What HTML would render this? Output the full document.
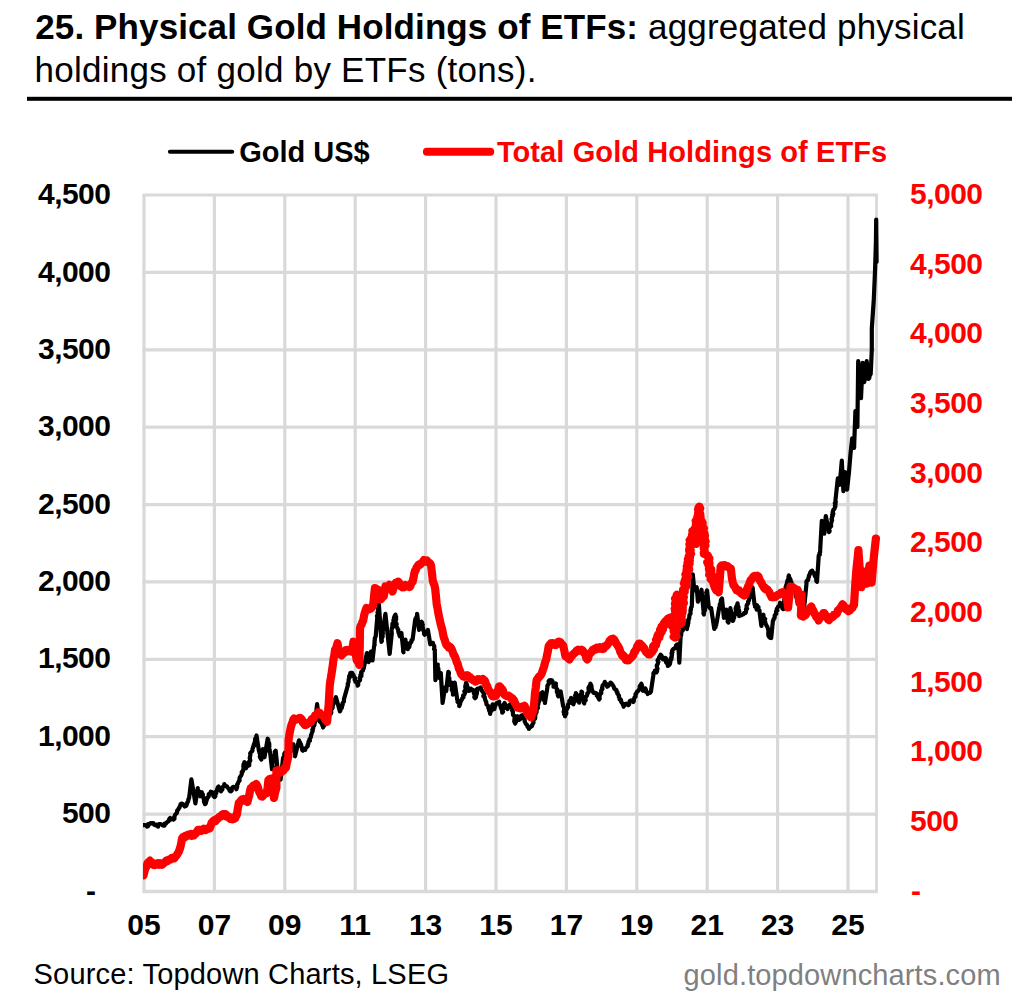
<!DOCTYPE html>
<html lang="en"><head><meta charset="utf-8"><title>25. Physical Gold Holdings of ETFs</title>
<style>
html,body{margin:0;padding:0;background:#fff;}
body{width:1035px;height:997px;overflow:hidden;font-family:"Liberation Sans",sans-serif;}
svg{display:block;}
text{font-family:"Liberation Sans",sans-serif;}
.t{font-size:35px;fill:#000;}
.b{font-weight:bold;}
.ax{font-size:30px;font-weight:bold;fill:#000;}
.axr{font-size:30px;font-weight:bold;fill:#ff0000;}
.lg{font-size:29px;font-weight:bold;}
.src{font-size:29px;fill:#000;}
.url{font-size:29px;fill:#808080;}
.grid line{stroke:#d9d9d9;stroke-width:3.2;}
</style></head><body>
<svg width="1035" height="997" viewBox="0 0 1035 997">
<rect width="1035" height="997" fill="#fff"/>
<text class="t" x="35.3" y="39"><tspan class="b" letter-spacing="0.11">25. Physical Gold Holdings of ETFs:</tspan><tspan letter-spacing="0.19"> aggregated physical</tspan></text>
<text class="t" x="34.5" y="82.4" letter-spacing="0.25">holdings of gold by ETFs (tons).</text>
<rect x="27" y="96.8" width="985" height="4" fill="#000"/>
<line x1="169.9" y1="151.85" x2="232.2" y2="151.85" stroke="#000" stroke-width="4" stroke-linecap="round"/>
<text class="lg" x="239.2" y="161.7" fill="#000">Gold US$</text>
<line x1="426.9" y1="151.8" x2="490.2" y2="151.8" stroke="#ff0000" stroke-width="8" stroke-linecap="round"/>
<text class="lg" x="496.9" y="161.7" fill="#ff0000" letter-spacing="0.1">Total Gold Holdings of ETFs</text>
<g class="grid">
<line x1="142.4" y1="891.50" x2="877.9" y2="891.50" style="stroke-width:3.3"/>
<line x1="142.4" y1="814.11" x2="877.9" y2="814.11"/>
<line x1="142.4" y1="736.72" x2="877.9" y2="736.72"/>
<line x1="142.4" y1="659.33" x2="877.9" y2="659.33"/>
<line x1="142.4" y1="581.94" x2="877.9" y2="581.94"/>
<line x1="142.4" y1="504.56" x2="877.9" y2="504.56"/>
<line x1="142.4" y1="427.17" x2="877.9" y2="427.17"/>
<line x1="142.4" y1="349.78" x2="877.9" y2="349.78"/>
<line x1="142.4" y1="272.39" x2="877.9" y2="272.39"/>
<line x1="142.4" y1="195.00" x2="877.9" y2="195.00"/>
<line x1="144.00" y1="195.0" x2="144.00" y2="891.5"/>
<line x1="214.40" y1="195.0" x2="214.40" y2="891.5"/>
<line x1="284.80" y1="195.0" x2="284.80" y2="891.5"/>
<line x1="355.20" y1="195.0" x2="355.20" y2="891.5"/>
<line x1="425.60" y1="195.0" x2="425.60" y2="891.5"/>
<line x1="496.00" y1="195.0" x2="496.00" y2="891.5"/>
<line x1="566.40" y1="195.0" x2="566.40" y2="891.5"/>
<line x1="636.80" y1="195.0" x2="636.80" y2="891.5"/>
<line x1="707.20" y1="195.0" x2="707.20" y2="891.5"/>
<line x1="777.60" y1="195.0" x2="777.60" y2="891.5"/>
<line x1="848.00" y1="195.0" x2="848.00" y2="891.5"/>
<line x1="876.50" y1="195.0" x2="876.50" y2="891.5" style="stroke-width:2.8"/>
</g>
<clipPath id="pc"><rect x="143" y="150" width="760" height="760"/></clipPath>
<g clip-path="url(#pc)">
<path d="M143.5 825.1 L144.8 825.2 L146.2 825.3 L147.0 826.6 L148.2 826.0 L148.1 824.1 L149.7 824.0 L150.5 823.1 L151.8 823.3 L153.3 823.1 L154.0 824.6 L155.0 825.1 L156.5 824.6 L157.1 826.0 L158.1 826.6 L158.2 825.0 L159.0 824.2 L160.6 824.1 L161.9 824.7 L163.1 825.6 L164.5 825.6 L164.6 823.5 L166.1 823.6 L166.5 822.5 L167.6 821.9 L168.6 821.2 L168.8 820.0 L169.3 818.9 L170.1 818.1 L170.8 819.6 L172.9 818.1 L173.6 819.6 L174.5 818.6 L174.3 817.2 L174.7 816.0 L175.1 814.8 L175.9 813.8 L177.0 812.9 L177.1 811.6 L177.2 810.4 L178.2 809.6 L178.6 808.6 L179.4 807.6 L179.7 806.5 L180.5 805.6 L180.5 804.2 L181.6 803.5 L183.0 804.1 L183.9 805.3 L184.6 806.5 L185.9 806.1 L186.6 805.0 L187.0 803.8 L187.2 802.6 L188.0 801.6 L188.3 800.3 L188.5 799.1 L189.1 798.0 L191.4 779.3 L195.4 803.4 L197.8 788.1 L197.7 789.4 L198.2 790.5 L199.1 791.5 L199.1 792.8 L199.5 793.9 L199.4 795.2 L200.2 796.2 L201.0 794.9 L201.0 793.4 L201.8 792.2 L201.5 793.4 L202.9 794.2 L202.8 795.4 L202.6 796.6 L203.7 797.5 L203.6 798.7 L204.4 799.7 L203.9 801.0 L204.1 802.1 L204.6 803.1 L205.0 804.2 L205.9 803.3 L205.6 802.0 L206.4 801.2 L206.7 800.1 L207.1 799.0 L207.3 797.9 L208.2 797.1 L208.8 796.1 L208.6 794.8 L209.0 793.8 L210.3 793.6 L210.7 791.7 L212.2 792.2 L212.6 793.5 L213.2 794.7 L213.4 796.1 L214.6 797.0 L215.4 796.1 L215.2 794.8 L215.7 793.8 L216.4 792.9 L216.0 791.5 L217.0 790.7 L217.0 789.5 L217.4 788.4 L217.7 787.4 L218.6 786.5 L218.9 787.9 L220.3 788.7 L220.7 790.0 L221.0 791.4 L221.4 790.3 L222.4 789.5 L221.9 788.0 L222.8 787.2 L223.4 786.2 L224.3 785.4 L224.3 784.1 L224.8 785.2 L225.5 786.1 L226.9 786.3 L227.5 787.3 L228.4 788.3 L229.2 789.2 L229.5 790.7 L230.7 791.4 L231.8 790.5 L231.5 788.9 L232.2 787.8 L233.2 786.8 L234.7 787.1 L235.7 787.9 L236.4 789.2 L236.7 788.1 L237.2 787.0 L237.1 785.8 L237.1 784.6 L237.9 783.6 L238.2 782.5 L238.8 781.4 L239.6 780.4 L239.5 779.2 L239.6 778.0 L240.2 776.8 L241.0 775.7 L241.6 774.5 L242.0 773.2 L241.7 772.0 L243.0 771.1 L243.1 769.9 L243.5 768.8 L243.6 767.7 L243.3 766.4 L243.6 765.3 L243.5 764.1 L244.4 763.1 L244.4 762.0 L245.3 762.9 L245.5 764.0 L245.6 765.1 L245.9 766.1 L246.0 767.3 L246.0 768.4 L246.4 767.2 L247.2 766.3 L248.1 765.7 L249.3 765.2 L248.9 763.9 L249.4 762.8 L249.1 761.6 L250.3 760.6 L250.1 759.4 L249.7 758.1 L250.0 757.0 L250.2 755.8 L250.4 754.6 L250.2 753.4 L250.9 752.3 L251.8 751.5 L252.5 750.5 L252.4 749.1 L253.0 748.0 L253.0 746.7 L254.1 745.9 L253.8 744.6 L254.4 743.6 L254.6 742.4 L255.6 741.4 L255.0 740.0 L255.1 738.8 L256.5 737.9 L256.2 736.7 L256.5 735.5 L258.9 750.7 L259.6 751.7 L259.4 753.0 L260.4 753.9 L260.1 755.2 L259.8 756.4 L260.2 757.5 L260.7 758.5 L261.3 759.6 L261.2 758.4 L261.5 757.2 L261.4 756.0 L262.4 755.0 L262.2 753.8 L262.7 752.7 L262.3 751.4 L262.4 750.2 L262.9 749.1 L262.7 750.4 L262.7 751.5 L263.1 752.7 L263.4 753.8 L263.6 754.9 L264.0 756.1 L264.5 757.2 L267.7 738.7 L268.3 739.8 L268.1 741.0 L268.5 742.1 L269.1 743.1 L269.3 744.3 L269.2 745.5 L269.4 746.6 L269.1 747.8 L268.9 749.0 L269.8 750.1 L269.4 751.3 L270.1 752.3 L272.0 769.2 L272.9 768.1 L273.0 767.0 L272.4 765.8 L272.4 764.6 L272.6 763.4 L272.7 762.3 L272.9 761.2 L273.6 760.1 L274.1 759.0 L274.2 757.9 L273.9 756.7 L274.1 755.5 L274.7 754.4 L275.3 753.3 L274.8 751.8 L275.7 750.7 L277.3 766.8 L277.4 767.9 L277.4 769.1 L277.8 770.1 L278.1 771.1 L278.7 772.1 L279.4 773.1 L278.8 774.4 L279.7 775.3 L279.4 776.5 L279.4 777.6 L280.4 778.5 L280.6 779.6 L283.0 758.8 L283.2 757.6 L284.3 756.8 L284.4 755.7 L284.2 754.3 L284.5 753.2 L285.4 752.3 L286.5 752.8 L286.6 754.3 L287.5 755.0 L288.6 755.5 L288.4 754.4 L289.5 753.5 L290.0 752.5 L289.8 751.3 L289.7 750.1 L290.2 749.1 L290.0 747.9 L290.1 746.8 L291.0 745.9 L292.8 746.1 L293.4 744.3 L293.3 745.4 L293.6 746.5 L293.3 747.7 L294.1 748.7 L293.6 749.8 L293.8 750.9 L294.8 751.9 L294.9 753.0 L295.0 754.1 L295.2 755.2 L295.0 756.3 L299.0 740.3 L299.3 741.4 L300.1 742.3 L300.3 743.4 L301.1 744.3 L300.5 745.7 L301.6 746.5 L301.9 747.6 L302.1 748.7 L302.1 749.9 L303.0 750.7 L303.7 749.8 L305.3 749.8 L305.4 748.3 L306.3 747.6 L307.1 746.8 L307.8 745.9 L307.6 744.7 L308.4 743.8 L308.4 742.6 L308.5 741.4 L309.9 740.7 L309.4 739.4 L310.1 738.4 L310.8 737.4 L310.9 736.3 L311.0 735.2 L311.5 734.2 L311.8 733.1 L312.2 732.0 L312.8 730.9 L312.3 729.6 L313.2 728.6 L313.1 727.4 L313.5 726.3 L314.4 725.3 L314.4 724.1 L314.8 723.0 L315.1 721.8 L317.1 704.2 L319.1 720.2 L319.9 721.6 L321.5 721.8 L321.3 723.1 L322.2 724.1 L322.3 725.3 L322.8 726.3 L323.1 727.5 L323.6 726.4 L324.2 725.5 L324.4 724.3 L325.0 723.4 L325.3 722.3 L326.4 721.5 L326.3 720.2 L327.1 719.4 L328.0 718.6 L328.7 717.7 L328.6 716.2 L329.5 715.4 L330.0 714.3 L331.0 713.4 L331.3 712.2 L330.9 710.7 L331.3 709.5 L332.2 708.5 L332.7 707.4 L332.5 706.1 L333.1 705.0 L333.2 703.8 L334.3 702.8 L334.8 701.7 L335.3 700.6 L334.8 699.2 L335.8 698.2 L335.9 697.0 L339.9 711.4 L340.5 710.4 L340.2 709.1 L341.5 708.3 L342.0 707.2 L341.4 705.8 L342.7 705.0 L342.4 703.7 L342.8 702.7 L343.8 701.8 L344.0 700.6 L343.9 699.4 L348.0 684.9 L347.7 683.8 L348.3 682.7 L348.6 681.7 L348.6 680.5 L348.7 679.4 L349.0 678.3 L349.8 677.3 L349.1 676.1 L350.0 675.1 L350.1 674.0 L350.4 672.9 L352.1 672.8 L352.7 674.2 L353.6 675.3 L353.8 676.4 L354.4 677.4 L355.3 678.2 L354.6 679.7 L355.2 680.7 L355.4 681.8 L356.9 682.4 L357.1 683.5 L357.7 684.5 L357.6 685.7 L358.3 684.8 L358.0 683.5 L358.2 682.3 L358.9 681.3 L359.9 680.4 L360.2 679.3 L359.8 678.0 L360.1 676.8 L361.4 676.1 L361.3 674.8 L361.6 673.7 L360.5 674.8 L361.3 673.9 L361.1 672.4 L361.6 671.3 L362.9 670.6 L363.1 669.4 L363.7 668.4 L366.9 653.1 L367.7 654.1 L366.7 655.4 L367.3 656.5 L367.3 657.6 L368.5 658.6 L367.7 659.8 L368.9 660.8 L368.5 662.0 L369.2 660.9 L369.0 659.6 L369.1 658.4 L369.7 657.3 L370.4 656.3 L369.8 654.9 L369.9 653.7 L370.7 652.7 L370.9 651.5 L371.5 652.6 L371.8 653.6 L372.0 654.8 L372.3 655.8 L372.3 657.0 L372.4 658.1 L372.6 659.2 L372.5 660.4 L374.1 645.9 L374.7 644.8 L374.3 643.5 L374.7 642.3 L374.5 641.0 L374.9 639.9 L374.7 638.6 L375.2 637.4 L375.7 636.3 L377.3 617.0 L376.9 615.8 L377.9 614.7 L377.8 613.5 L377.5 612.3 L378.0 611.2 L378.8 610.1 L377.8 608.8 L378.9 607.7 L378.6 606.5 L378.8 605.4 L378.9 604.2 L381.4 641.9 L381.9 640.9 L381.5 639.7 L381.8 638.6 L382.2 637.6 L382.7 636.5 L382.0 635.3 L382.8 634.3 L382.8 633.2 L382.8 632.1 L382.7 630.9 L383.0 629.9 L385.4 613.8 L387.8 636.3 L389.7 653.9 L391.8 633.1 L391.7 631.9 L391.5 630.7 L391.7 629.5 L391.8 628.3 L392.8 627.3 L392.3 626.0 L392.4 624.9 L392.4 623.7 L393.5 622.6 L393.7 621.5 L393.4 620.2 L394.0 619.2 L394.0 617.9 L394.3 616.8 L394.8 615.7 L395.5 614.6 L395.6 615.8 L396.2 617.0 L395.9 618.2 L396.2 619.4 L395.4 620.7 L395.5 621.9 L396.2 623.1 L396.7 624.2 L395.9 625.5 L396.6 626.7 L397.2 627.7 L397.5 628.7 L398.3 629.7 L398.2 630.9 L398.4 632.0 L398.7 633.1 L399.5 634.0 L399.4 635.2 L399.8 636.3 L399.8 634.9 L400.6 634.0 L401.4 633.1 L403.5 652.3 L403.1 651.1 L403.7 650.0 L403.4 648.7 L403.6 647.6 L404.1 646.5 L404.2 645.3 L404.8 644.2 L404.9 643.0 L405.4 641.9 L405.5 640.7 L405.4 639.5 L405.4 640.6 L405.5 641.8 L406.4 642.7 L406.7 643.7 L406.1 645.0 L407.5 645.8 L407.0 647.1 L407.4 648.1 L407.8 649.1 L407.7 647.8 L409.1 647.1 L409.5 646.1 L409.6 644.9 L410.1 643.9 L410.2 642.7 L411.4 641.9 L411.5 640.3 L412.6 639.5 L415.1 620.2 L415.4 619.2 L415.8 618.1 L416.5 617.2 L416.8 616.1 L417.2 615.0 L417.1 613.8 L419.1 629.9 L419.5 628.8 L420.3 627.7 L420.3 626.5 L420.7 625.4 L420.4 624.0 L420.5 622.8 L421.5 621.8 L422.2 622.8 L422.2 623.9 L422.8 624.9 L422.1 626.2 L422.7 627.2 L422.9 628.3 L423.2 629.4 L423.4 630.5 L423.9 631.5 L424.8 632.4 L424.0 633.7 L424.7 634.7 L425.6 633.9 L426.0 632.8 L426.6 631.8 L427.4 630.9 L427.9 629.9 L430.3 644.3 L431.2 642.7 L433.0 642.9 L433.0 644.1 L433.8 645.2 L434.3 646.4 L434.3 647.6 L434.0 649.0 L434.9 650.0 L434.8 651.3 L435.4 680.2 L437.8 664.5 L437.6 665.7 L437.4 666.8 L438.1 667.8 L438.4 668.9 L438.4 670.0 L438.2 671.2 L438.2 672.3 L438.5 673.4 L438.5 674.5 L439.4 675.5 L439.4 676.6 L439.0 677.8 L439.2 676.5 L440.2 675.5 L440.1 674.1 L440.8 673.0 L442.6 703.0 L445.0 687.4 L445.4 688.6 L446.5 689.6 L446.2 691.0 L448.3 671.8 L449.0 672.8 L448.9 673.9 L448.5 675.1 L448.6 676.2 L448.7 677.3 L449.4 678.3 L449.2 679.5 L449.4 680.6 L449.5 681.7 L450.1 682.7 L449.2 684.0 L449.9 685.0 L450.4 683.6 L451.7 682.6 L451.2 683.9 L451.3 685.1 L452.7 686.1 L452.2 687.4 L451.8 688.6 L451.8 689.9 L452.6 691.0 L452.9 692.2 L453.1 693.4 L452.9 694.6 L453.6 693.6 L452.8 692.4 L453.5 691.4 L453.1 690.2 L453.7 689.2 L454.4 688.1 L453.5 686.9 L454.6 685.9 L454.4 684.8 L455.0 683.8 L454.7 682.6 L457.1 698.2 L457.1 699.4 L458.0 700.4 L457.5 701.7 L458.3 702.7 L459.2 703.7 L459.6 704.8 L459.2 706.1 L459.7 705.0 L460.1 703.8 L460.3 702.7 L460.6 701.5 L461.3 700.5 L461.9 699.4 L462.3 698.1 L463.5 697.2 L463.1 695.5 L464.3 694.6 L464.8 693.6 L465.1 692.5 L464.3 691.3 L465.5 690.3 L465.4 689.2 L465.8 688.1 L465.2 686.9 L465.4 685.8 L465.6 684.8 L466.6 683.8 L466.1 682.6 L466.3 683.8 L467.0 684.9 L467.2 686.2 L467.8 687.3 L468.4 688.4 L468.7 689.7 L468.5 691.0 L469.6 690.5 L469.9 689.2 L470.9 688.6 L471.0 690.1 L473.0 689.8 L473.3 691.0 L473.9 692.1 L473.9 693.4 L474.6 694.5 L474.7 695.8 L474.3 697.2 L475.1 698.2 L475.9 697.3 L476.1 696.2 L476.1 695.1 L476.7 694.1 L477.0 693.0 L476.8 691.8 L477.3 690.8 L476.7 689.5 L477.5 688.6 L479.3 688.5 L480.6 687.4 L481.2 688.6 L481.5 690.0 L482.2 691.1 L483.0 692.2 L483.6 693.3 L484.2 694.5 L483.4 696.0 L484.8 696.9 L484.7 698.2 L485.2 699.4 L485.4 700.6 L486.2 701.7 L486.3 703.2 L486.6 704.5 L487.8 705.5 L488.4 706.6 L488.3 707.9 L489.1 709.0 L489.1 710.3 L489.6 711.4 L490.3 712.6 L490.2 713.9 L490.0 712.7 L490.3 711.6 L491.5 710.8 L491.2 709.6 L491.2 708.4 L492.3 707.6 L492.7 706.6 L492.3 705.3 L492.6 704.3 L493.5 705.3 L493.9 706.5 L494.4 707.7 L494.4 709.1 L494.7 707.8 L494.9 706.5 L495.5 705.3 L496.0 704.1 L496.8 703.0 L498.1 702.6 L499.2 701.8 L499.0 703.1 L499.5 704.1 L500.2 705.1 L500.5 706.1 L500.7 707.3 L501.2 708.3 L501.5 709.4 L502.2 710.4 L502.2 711.5 L502.2 712.7 L503.1 711.8 L502.3 710.4 L503.0 709.5 L503.5 708.4 L504.0 707.4 L503.5 706.2 L503.8 705.1 L504.0 704.0 L504.6 703.0 L505.2 704.0 L505.7 705.0 L505.6 706.3 L506.2 707.3 L506.7 708.3 L507.6 709.1 L507.7 707.6 L508.3 706.4 L509.7 705.6 L510.0 704.3 L510.0 705.5 L510.9 706.3 L511.2 707.4 L512.4 708.1 L512.3 709.4 L512.1 710.7 L513.0 711.5 L512.8 712.6 L513.0 713.7 L513.0 714.9 L514.2 715.8 L514.5 716.9 L514.7 718.0 L514.4 719.1 L514.4 720.3 L514.2 721.4 L514.7 722.5 L515.2 723.5 L515.7 722.4 L516.2 721.2 L516.2 719.9 L516.6 718.7 L516.3 717.3 L517.3 716.3 L517.5 717.7 L518.8 718.5 L519.1 719.9 L520.1 719.2 L520.4 718.1 L520.7 716.9 L521.1 715.8 L522.1 715.1 L522.8 716.0 L522.8 717.2 L523.1 718.3 L524.3 719.0 L524.7 720.0 L524.6 721.3 L525.1 722.3 L525.6 723.5 L526.5 724.4 L527.3 725.4 L527.5 726.8 L528.9 727.5 L528.9 728.9 L529.6 727.7 L530.6 726.8 L531.9 726.1 L532.3 724.7 L532.9 723.7 L533.5 722.8 L533.4 721.5 L533.5 720.4 L533.9 719.3 L535.1 718.6 L535.2 717.4 L535.3 716.3 L535.3 715.1 L535.3 713.9 L536.1 713.0 L536.6 712.0 L536.6 710.8 L536.6 709.6 L537.4 708.7 L538.0 707.7 L537.4 706.4 L537.5 705.2 L538.3 704.3 L538.4 703.1 L538.7 702.1 L539.3 701.1 L538.9 699.8 L539.9 698.9 L540.1 697.8 L540.0 696.7 L539.9 695.5 L541.1 694.6 L540.7 693.4 L542.5 692.2 L543.0 693.2 L542.6 694.5 L543.6 695.4 L543.9 696.5 L543.4 697.7 L544.2 698.7 L543.6 699.9 L544.5 700.9 L545.1 701.9 L544.9 703.0 L547.4 687.4 L547.3 686.1 L547.9 685.0 L548.6 683.9 L549.3 682.8 L548.6 681.3 L549.4 680.2 L550.6 680.0 L551.8 680.2 L552.5 681.2 L551.8 682.5 L553.1 683.3 L553.5 684.4 L553.7 685.4 L553.5 686.7 L554.1 685.5 L555.5 684.8 L555.9 683.5 L555.6 684.7 L556.0 685.8 L555.9 687.1 L556.2 688.2 L557.2 689.2 L557.6 690.4 L556.8 691.7 L557.3 692.8 L558.4 693.8 L557.8 695.2 L558.3 696.3 L558.7 695.0 L559.3 693.8 L559.9 692.6 L560.7 691.5 L563.1 705.9 L563.7 707.0 L564.2 708.1 L564.0 709.3 L564.1 710.5 L563.6 711.8 L564.9 712.8 L564.0 714.1 L565.2 715.1 L565.0 716.3 L565.1 715.1 L566.1 714.1 L566.4 713.0 L566.2 711.7 L566.0 710.4 L566.9 709.4 L567.1 708.2 L568.1 707.2 L567.9 705.9 L568.0 704.6 L568.6 703.6 L569.8 702.7 L569.2 701.1 L570.1 700.1 L571.0 699.2 L571.1 697.9 L571.2 699.1 L572.5 699.8 L572.9 700.9 L573.2 702.0 L572.6 703.4 L573.5 704.3 L573.4 703.1 L574.3 702.1 L574.7 701.1 L574.3 699.8 L574.4 698.6 L575.5 697.7 L575.3 696.5 L575.1 695.3 L576.0 694.3 L575.9 693.1 L576.5 694.1 L576.9 695.1 L577.6 696.1 L577.0 697.5 L577.2 698.6 L577.9 699.6 L577.9 700.8 L579.4 701.4 L579.1 702.7 L579.0 701.5 L579.6 700.5 L580.4 699.5 L580.7 698.3 L580.2 697.1 L580.3 695.9 L580.7 694.8 L581.0 693.7 L581.8 692.7 L581.5 691.5 L582.2 692.5 L581.6 693.8 L582.0 694.8 L582.1 695.9 L582.4 697.0 L582.9 698.1 L583.5 699.1 L583.8 700.2 L583.9 701.3 L583.7 702.5 L584.3 703.5 L584.1 702.2 L584.6 701.2 L585.7 700.3 L585.4 699.0 L585.5 697.8 L585.8 696.7 L586.9 695.8 L587.2 694.7 L587.3 693.5 L588.4 692.6 L588.6 691.5 L589.1 690.4 L588.5 689.0 L588.5 687.8 L588.9 686.7 L589.7 685.7 L590.3 684.6 L590.4 683.5 L590.8 684.6 L591.4 685.6 L591.5 686.9 L591.6 688.1 L591.9 689.2 L592.1 690.4 L592.8 691.5 L593.5 692.8 L594.7 692.9 L596.0 693.1 L597.0 693.9 L596.6 695.4 L597.8 696.2 L598.0 697.4 L598.8 698.4 L599.2 699.5 L599.8 698.5 L599.3 697.3 L599.7 696.2 L599.9 695.1 L600.1 694.0 L601.3 693.2 L601.2 692.0 L601.1 690.9 L601.5 689.8 L602.5 689.0 L602.1 687.7 L602.4 686.7 L602.7 685.3 L604.0 684.4 L604.4 683.1 L604.8 681.8 L604.8 683.3 L606.5 684.0 L606.6 685.4 L607.2 686.7 L608.3 685.9 L609.2 684.9 L610.0 684.0 L610.4 682.6 L611.6 683.3 L612.1 684.5 L613.0 685.3 L613.6 686.4 L614.0 687.6 L614.4 688.8 L615.5 689.3 L616.4 690.0 L616.4 691.3 L617.5 692.2 L617.3 693.6 L618.3 694.6 L619.0 695.6 L618.8 697.0 L619.6 698.0 L619.6 699.4 L621.1 700.0 L621.0 701.4 L621.5 702.5 L622.5 703.4 L622.8 704.6 L623.6 705.5 L623.6 706.8 L624.1 705.5 L625.0 704.5 L626.0 703.6 L627.1 704.6 L628.5 705.2 L629.2 704.1 L629.3 702.7 L629.7 701.3 L630.9 700.4 L632.3 700.9 L633.3 702.0 L633.9 701.0 L633.7 699.7 L634.2 698.6 L634.5 697.5 L635.6 696.6 L635.7 695.4 L635.5 694.1 L636.5 693.2 L636.9 691.8 L638.0 691.0 L638.9 690.0 L639.3 688.9 L639.9 687.9 L639.6 686.6 L640.1 685.6 L641.1 684.7 L641.3 683.6 L641.7 684.7 L642.1 685.9 L642.3 687.1 L641.8 688.5 L642.9 689.5 L642.9 690.8 L643.8 690.1 L644.4 689.1 L645.3 688.4 L645.9 689.5 L645.8 690.8 L646.1 692.0 L647.4 692.8 L647.7 694.0 L648.3 692.6 L650.2 692.8 L650.9 691.6 L653.3 675.5 L653.4 674.2 L653.5 672.9 L655.0 672.1 L654.9 670.7 L655.8 671.5 L656.5 672.3 L657.1 671.2 L656.7 670.0 L657.5 668.9 L657.1 667.7 L656.8 666.4 L656.8 665.3 L657.6 664.2 L657.9 663.0 L658.4 661.9 L657.5 660.6 L658.1 659.5 L658.9 658.4 L659.2 657.0 L660.0 655.9 L660.6 654.7 L661.6 655.7 L662.0 657.0 L662.3 658.3 L663.0 659.5 L664.7 659.5 L665.4 657.9 L666.2 658.9 L666.1 660.2 L666.0 661.4 L666.2 662.7 L667.5 663.5 L667.9 664.6 L667.8 665.9 L669.0 665.2 L669.9 664.2 L670.2 662.7 L670.4 661.5 L670.0 660.3 L671.4 659.3 L670.9 658.0 L671.8 657.0 L671.6 655.7 L672.1 654.6 L671.5 653.3 L672.5 652.3 L672.0 651.0 L672.6 649.9 L673.3 649.0 L674.5 648.6 L675.3 647.8 L675.8 646.7 L676.1 645.3 L676.9 644.6 L678.2 644.3 L679.3 662.7 L680.6 637.0 L680.8 635.9 L681.2 634.9 L681.3 633.8 L681.2 632.6 L681.6 631.6 L682.5 630.7 L683.0 629.7 L682.2 628.3 L683.0 627.4 L683.7 626.2 L684.5 625.1 L684.3 623.5 L685.4 622.6 L685.3 623.8 L686.5 624.6 L686.1 625.8 L686.4 626.9 L686.6 628.0 L687.0 629.0 L687.0 627.8 L687.4 626.7 L687.8 625.5 L687.8 624.3 L688.3 623.2 L688.3 622.0 L688.5 620.8 L688.2 619.6 L689.2 618.5 L689.2 617.3 L689.4 616.2 L689.4 615.0 L690.3 614.1 L690.6 613.0 L690.5 611.9 L690.4 610.7 L691.0 609.7 L690.8 608.6 L691.1 607.5 L691.8 606.5 L692.8 574.4 L694.3 590.5 L695.0 589.4 L695.4 588.0 L696.7 587.3 L697.9 601.7 L698.4 600.5 L698.9 599.3 L698.8 597.9 L699.9 596.9 L700.3 595.7 L699.9 594.4 L701.0 593.4 L701.3 592.2 L701.2 590.9 L701.5 589.7 L703.9 614.6 L703.4 613.3 L704.2 612.2 L704.2 611.0 L705.1 610.0 L704.1 608.7 L705.2 607.6 L705.6 606.5 L705.4 605.3 L705.6 604.1 L704.9 602.8 L705.5 601.7 L706.3 600.7 L705.8 599.5 L706.6 598.4 L706.7 597.3 L705.9 596.0 L706.8 595.0 L707.2 593.9 L706.2 592.7 L706.7 591.6 L707.1 590.5 L708.7 606.5 L709.6 607.9 L711.1 608.1 L714.3 629.0 L714.3 627.8 L715.6 627.1 L715.2 625.7 L716.3 624.9 L715.9 623.5 L716.7 622.6 L719.1 608.1 L719.5 607.1 L720.3 606.2 L719.7 604.8 L720.1 603.8 L720.7 602.8 L720.8 601.7 L720.8 600.5 L721.3 599.5 L722.0 598.5 L723.9 617.8 L723.9 616.5 L725.2 615.6 L725.2 614.4 L725.8 613.3 L725.2 611.9 L726.4 611.0 L726.3 609.7 L727.0 610.8 L726.7 612.1 L726.7 613.3 L727.3 614.4 L726.8 615.7 L727.4 616.8 L727.6 617.9 L727.4 619.2 L728.6 620.2 L727.6 621.5 L728.4 622.6 L730.4 608.1 L730.4 609.3 L730.9 610.5 L730.6 611.7 L731.5 612.8 L730.8 614.1 L731.6 615.2 L732.1 616.3 L731.8 617.5 L732.4 618.6 L733.0 619.7 L732.8 621.0 L733.4 619.9 L732.9 618.5 L734.2 617.7 L733.8 616.3 L734.7 615.3 L735.4 614.3 L735.2 613.0 L735.6 611.9 L735.9 610.9 L735.7 609.7 L735.6 608.5 L735.9 607.5 L736.3 606.4 L737.2 605.5 L737.2 604.4 L737.6 603.3 L737.7 604.5 L737.4 605.7 L738.5 606.8 L738.5 608.0 L738.1 609.2 L739.1 610.3 L739.3 611.4 L738.9 612.6 L739.4 613.8 L739.2 615.0 L739.2 616.2 L740.0 615.0 L741.4 615.3 L742.4 614.6 L743.6 614.2 L744.2 612.9 L745.6 613.0 L746.0 611.9 L746.1 610.7 L745.9 609.5 L747.1 608.6 L746.5 607.3 L746.6 606.1 L746.8 605.0 L747.7 604.0 L748.3 603.0 L748.0 601.7 L748.9 600.7 L749.1 599.3 L749.5 598.0 L750.4 596.9 L750.1 595.6 L751.1 594.5 L751.3 593.3 L751.3 592.1 L751.9 590.9 L751.9 589.7 L752.8 588.6 L752.5 587.3 L754.4 603.3 L754.5 604.5 L755.5 605.4 L755.1 606.7 L756.6 607.4 L756.4 608.7 L756.8 609.7 L756.8 608.6 L756.6 607.4 L756.4 606.3 L757.1 605.2 L757.1 606.4 L758.5 607.1 L758.2 608.4 L758.2 609.7 L759.5 610.4 L759.5 611.6 L761.4 626.0 L761.2 624.8 L762.0 623.8 L762.1 622.7 L762.4 621.6 L762.9 620.5 L762.3 619.2 L762.6 618.1 L762.8 617.0 L762.7 615.8 L763.5 614.8 L763.3 616.0 L763.7 617.0 L764.0 618.1 L765.2 618.9 L764.4 620.3 L764.8 621.3 L765.4 622.3 L765.3 623.4 L765.9 624.4 L766.4 625.5 L767.1 626.4 L767.6 627.5 L767.9 628.6 L768.5 629.6 L768.3 630.9 L768.6 631.9 L768.2 633.1 L768.4 634.2 L768.3 635.3 L768.8 636.4 L769.7 637.6 L771.2 638.0 L772.8 622.0 L772.9 620.8 L773.6 619.8 L773.8 618.7 L774.6 617.8 L774.7 616.6 L774.7 615.4 L775.5 614.5 L776.3 613.6 L776.0 612.3 L776.1 611.1 L777.4 610.4 L776.8 608.9 L777.5 607.9 L778.0 606.9 L779.0 606.0 L779.7 605.1 L779.9 603.9 L780.1 602.7 L780.8 603.7 L780.7 605.1 L781.9 605.8 L782.5 606.8 L782.3 608.3 L783.3 609.1 L785.7 586.7 L786.2 585.6 L786.6 584.5 L786.8 583.3 L787.6 582.3 L787.2 581.0 L788.0 580.0 L788.2 578.9 L788.7 577.8 L788.5 576.5 L788.9 575.4 L788.9 576.7 L789.5 577.7 L790.2 578.8 L790.6 579.9 L790.5 581.2 L791.5 582.1 L791.3 583.5 L791.4 584.8 L792.8 585.5 L793.5 586.6 L793.5 588.0 L794.4 589.0 L793.7 590.5 L794.8 591.4 L795.4 592.4 L795.9 593.5 L796.2 594.7 L796.0 596.0 L796.3 597.3 L796.8 598.5 L797.3 599.7 L797.7 600.9 L798.5 602.0 L798.4 600.6 L799.5 599.5 L799.7 598.2 L800.3 597.0 L800.2 598.2 L800.4 599.4 L800.6 600.5 L802.0 601.4 L801.2 602.7 L801.4 603.9 L801.7 605.0 L802.5 606.0 L803.5 606.8 L803.8 607.8 L804.0 609.0 L806.5 583.5 L806.4 582.2 L806.6 581.0 L808.0 580.1 L808.3 579.0 L808.4 577.8 L809.0 576.7 L808.9 575.4 L809.7 574.6 L810.0 573.3 L810.4 572.2 L811.1 571.3 L812.2 570.6 L812.5 572.0 L813.7 572.8 L814.2 574.1 L814.6 575.4 L815.1 576.5 L816.0 577.3 L816.1 578.5 L816.4 579.6 L816.3 580.9 L817.0 581.8 L818.6 557.8 L818.6 556.6 L818.8 555.4 L819.9 554.5 L819.5 553.2 L820.2 552.1 L820.1 550.9 L820.2 549.7 L821.8 520.9 L822.6 521.9 L822.3 523.2 L822.5 524.3 L822.3 525.6 L823.1 526.7 L822.8 527.9 L823.3 529.0 L823.9 530.1 L823.3 531.5 L824.5 532.4 L824.2 533.7 L825.8 516.0 L829.0 532.1 L829.7 531.1 L829.1 529.9 L829.2 528.7 L829.7 527.7 L830.7 526.8 L831.2 525.8 L830.2 524.4 L831.1 523.5 L831.4 522.5 L831.6 521.3 L832.1 520.3 L831.5 519.0 L832.0 518.0 L832.0 516.8 L832.8 515.8 L832.2 514.6 L833.3 513.6 L832.6 512.3 L833.0 511.2 L833.3 509.9 L834.5 508.9 L834.8 507.6 L835.4 506.4 L834.9 505.3 L835.6 504.2 L834.8 503.1 L835.8 502.0 L835.4 500.9 L837.8 478.4 L837.8 479.5 L838.1 480.6 L838.6 481.6 L839.2 482.6 L839.5 483.7 L839.7 484.8 L841.8 460.7 L843.4 491.2 L845.0 472.0 L847.1 489.6 L849.0 472.0 L850.6 452.7 L852.2 438.3 L852.6 439.4 L852.2 440.8 L853.5 441.8 L852.7 443.2 L854.0 444.2 L854.0 445.4 L854.2 446.6 L854.1 447.9 L855.4 411.0 L857.4 427.0 L858.2 361.2 L859.4 382.1 L861.0 398.1 L862.6 362.8 L864.3 382.1 L866.7 361.2 L868.3 378.9 L869.3 377.9 L869.5 376.5 L869.9 375.2 L870.7 374.1 L871.8 350.0 L871.8 328.4 L873.8 299.5 L875.1 269.0 L875.9 242.0 L876.2 219.6 L876.6 262.0" fill="none" stroke="#000" stroke-width="4.2" stroke-linejoin="round" stroke-linecap="round"/>
<path d="M143.5 875.3 L144.3 872.2 L145.0 869.2 L145.9 867.4 L146.7 866.1 L147.5 863.2 L148.4 862.3 L149.2 861.6 L150.0 860.7 L150.8 861.9 L151.5 862.1 L152.3 863.7 L153.0 864.7 L153.8 864.9 L154.6 865.1 L155.4 863.6 L156.2 863.9 L157.1 864.2 L157.9 863.4 L158.7 864.8 L159.5 864.6 L160.3 863.3 L161.1 864.2 L161.9 864.8 L162.7 864.3 L163.5 863.3 L164.3 862.8 L165.1 862.2 L165.9 861.1 L166.7 860.4 L167.6 861.0 L168.4 859.7 L169.3 859.5 L170.1 859.7 L170.9 858.8 L171.8 857.9 L172.6 858.4 L173.4 857.9 L174.3 858.3 L175.1 857.2 L176.0 856.0 L176.9 855.0 L177.7 853.4 L178.6 852.2 L179.6 849.5 L180.6 846.2 L181.4 842.1 L182.1 838.1 L182.9 837.2 L183.6 838.1 L184.4 837.6 L185.1 836.1 L186.0 836.6 L186.8 836.1 L187.6 835.0 L188.5 834.6 L189.3 834.5 L190.2 834.6 L190.9 834.0 L191.7 835.7 L192.4 835.2 L193.2 835.6 L194.0 835.4 L194.8 833.6 L195.6 833.8 L196.4 832.7 L197.2 831.1 L198.0 829.8 L198.8 829.9 L199.6 831.0 L200.4 829.9 L201.2 829.6 L202.0 830.6 L202.9 829.4 L203.7 828.8 L204.5 829.9 L205.4 830.2 L206.2 829.6 L207.0 828.9 L207.7 828.3 L208.5 828.5 L209.2 828.6 L210.0 827.9 L210.7 825.9 L211.5 823.0 L212.2 822.1 L213.0 821.2 L213.8 820.5 L214.6 820.0 L215.4 821.1 L216.2 820.1 L217.0 818.7 L217.8 818.8 L218.6 817.9 L219.4 816.7 L220.2 816.6 L221.0 816.6 L221.7 815.0 L222.5 815.6 L223.2 814.1 L224.0 814.3 L224.8 814.1 L225.5 814.1 L226.3 814.8 L227.0 816.8 L227.8 817.0 L228.5 816.6 L229.3 817.6 L230.0 818.6 L230.8 817.5 L231.5 818.1 L232.3 819.3 L233.0 819.1 L233.8 819.1 L234.5 817.3 L235.3 818.1 L236.0 815.5 L236.8 815.1 L237.8 808.6 L238.8 803.0 L239.6 802.9 L240.4 801.2 L241.1 800.4 L241.9 799.3 L242.7 799.4 L243.5 799.0 L244.3 800.3 L245.1 800.1 L245.9 801.2 L246.7 801.1 L247.5 801.8 L248.3 798.3 L249.1 795.9 L249.9 791.5 L250.7 788.1 L251.5 787.7 L252.3 787.7 L253.1 785.8 L253.9 785.2 L254.7 786.1 L255.5 785.3 L256.3 784.1 L257.2 785.6 L258.0 787.5 L258.8 790.6 L259.6 793.0 L260.4 793.6 L261.2 796.2 L262.0 796.6 L262.8 796.0 L263.6 795.0 L264.4 794.2 L265.2 793.1 L266.0 792.5 L266.8 793.0 L267.6 787.5 L268.4 780.1 L269.2 779.3 L270.0 779.9 L270.8 778.7 L271.6 779.5 L272.4 778.5 L273.2 788.3 L274.0 797.8 L274.8 794.2 L275.6 790.7 L276.4 788.1 L276.4 770.5 L277.2 771.2 L278.0 770.2 L278.8 770.8 L279.6 771.7 L280.4 772.5 L281.2 772.1 L282.0 771.5 L282.8 770.1 L283.6 770.5 L284.4 768.3 L285.2 767.1 L286.0 767.3 L286.8 763.1 L287.6 759.7 L288.4 756.0 L288.6 739.5 L289.4 734.3 L290.2 730.3 L291.0 726.7 L291.8 724.0 L292.6 722.0 L293.4 719.4 L294.2 718.5 L295.0 718.8 L295.8 719.6 L296.6 719.6 L297.4 718.7 L298.2 718.6 L299.0 718.2 L299.8 717.8 L300.6 718.1 L301.4 719.0 L302.2 720.0 L303.0 722.8 L303.8 723.4 L304.6 724.9 L305.4 725.1 L306.2 723.6 L307.0 724.3 L307.8 723.4 L308.6 723.4 L309.4 722.0 L310.2 721.8 L311.0 721.8 L311.8 718.9 L312.6 718.7 L313.5 718.0 L314.3 717.3 L315.1 715.4 L315.9 715.1 L316.7 714.2 L317.5 713.6 L318.3 712.2 L319.1 713.6 L319.9 713.0 L320.7 714.2 L321.5 715.2 L322.3 715.6 L323.1 715.4 L323.9 716.5 L324.7 718.6 L325.5 720.0 L326.3 720.7 L327.1 721.8 L327.9 713.3 L328.7 704.2 L329.8 684.9 L330.5 679.9 L331.3 675.5 L332.0 670.7 L332.7 665.7 L333.5 659.5 L334.3 655.3 L335.1 649.6 L335.9 648.5 L336.7 646.1 L337.5 643.2 L338.3 647.8 L339.1 651.4 L339.9 652.5 L340.7 654.5 L341.5 655.4 L342.3 654.6 L343.1 653.3 L343.9 653.1 L344.7 651.4 L345.5 650.4 L346.3 651.6 L347.1 650.0 L347.9 651.0 L348.7 650.6 L349.5 650.8 L350.3 650.5 L351.1 651.6 L351.9 651.4 L352.7 646.5 L353.5 641.7 L354.3 645.2 L355.1 648.2 L355.9 655.0 L356.7 660.2 L357.6 661.3 L358.4 662.4 L359.3 665.0 L359.8 645.0 L360.0 628.0 L360.8 625.7 L361.6 624.6 L362.4 621.8 L363.2 620.5 L364.1 615.6 L365.0 612.0 L366.4 608.0 L367.2 608.9 L368.0 608.5 L368.8 608.1 L369.6 609.1 L370.4 608.0 L371.2 608.4 L372.3 606.6 L373.3 604.2 L374.1 595.6 L374.9 588.1 L375.7 588.4 L376.5 589.6 L377.3 590.2 L378.1 589.7 L378.9 593.7 L379.7 595.9 L380.6 599.4 L381.4 598.7 L382.2 597.4 L383.0 596.2 L383.8 596.2 L384.6 591.3 L385.4 586.5 L386.2 586.9 L387.0 586.6 L387.8 586.0 L388.6 586.2 L389.4 584.9 L390.2 586.1 L391.0 587.5 L391.8 589.7 L392.6 591.4 L393.4 588.7 L394.2 586.4 L395.0 584.6 L395.8 582.5 L396.6 582.5 L397.4 582.0 L398.2 581.7 L399.0 582.5 L399.8 584.7 L400.6 586.1 L401.4 586.1 L402.2 587.3 L403.0 586.2 L403.8 585.8 L404.6 587.1 L405.4 585.1 L406.2 585.7 L407.0 586.3 L407.8 586.2 L408.6 585.8 L409.4 587.0 L410.2 586.5 L411.0 584.0 L411.8 582.6 L412.6 581.7 L413.5 577.9 L414.3 573.3 L415.1 570.5 L415.9 569.8 L416.7 567.3 L417.5 566.5 L418.3 565.2 L419.1 564.4 L419.9 564.9 L420.7 564.1 L421.5 563.0 L422.3 562.3 L423.1 561.4 L423.9 560.1 L424.7 561.0 L425.5 561.6 L426.3 561.4 L427.1 560.7 L427.9 561.7 L428.7 562.6 L429.5 563.0 L430.3 563.7 L431.1 565.7 L431.9 572.8 L432.7 580.1 L433.5 583.2 L434.3 584.8 L435.1 588.1 L435.9 595.7 L436.7 604.2 L437.5 608.2 L438.3 613.1 L439.1 617.0 L439.9 620.7 L440.7 624.3 L441.5 627.3 L442.3 629.9 L443.1 634.4 L443.9 637.9 L444.7 639.7 L445.5 642.5 L446.3 644.7 L447.2 645.9 L448.0 645.6 L448.8 647.7 L449.6 647.8 L450.4 647.1 L451.2 648.3 L452.0 650.0 L452.8 652.2 L453.6 654.6 L454.4 655.5 L455.2 657.3 L456.0 659.7 L456.8 662.3 L457.6 663.6 L458.4 666.6 L459.2 669.3 L460.0 670.7 L460.8 673.2 L461.6 674.6 L462.4 674.7 L463.2 676.4 L464.0 676.7 L464.8 676.8 L465.6 676.3 L466.4 676.3 L467.2 675.2 L468.0 675.6 L469.0 677.1 L470.0 677.0 L470.8 678.7 L471.6 679.3 L472.4 679.1 L473.2 680.3 L474.0 680.0 L474.8 681.0 L475.6 681.6 L476.4 681.2 L477.2 679.9 L478.0 679.1 L478.8 679.6 L479.6 679.4 L480.4 679.7 L481.2 680.2 L482.0 679.8 L482.8 679.0 L483.6 680.7 L484.4 680.2 L485.2 681.3 L486.0 684.7 L486.9 685.4 L487.7 687.6 L488.5 689.9 L489.3 691.7 L490.1 691.7 L490.9 693.0 L491.7 695.0 L492.5 696.3 L493.3 696.4 L494.1 696.3 L494.9 695.7 L495.7 695.9 L496.5 694.7 L497.3 692.0 L498.1 690.2 L498.9 686.7 L499.7 686.4 L500.5 687.3 L501.3 688.5 L502.1 689.1 L502.9 690.5 L503.7 693.3 L504.5 694.7 L505.3 695.2 L506.1 695.3 L506.9 696.2 L507.7 695.9 L508.5 695.6 L509.3 696.3 L510.1 696.7 L510.9 698.3 L511.7 699.1 L512.5 698.4 L513.3 700.3 L514.1 700.3 L514.9 703.0 L515.7 704.0 L516.5 705.9 L517.3 707.5 L518.1 707.1 L518.9 707.9 L519.7 708.0 L520.6 708.4 L521.4 708.3 L522.2 706.8 L523.0 708.1 L523.8 706.6 L524.6 705.9 L525.4 707.7 L526.2 710.5 L527.0 712.1 L527.8 713.9 L528.6 714.7 L529.4 715.9 L530.2 715.5 L531.0 717.2 L531.8 715.1 L532.6 712.7 L533.4 710.7 L534.2 702.8 L535.0 693.1 L535.8 687.5 L536.6 680.2 L537.4 678.8 L538.2 678.3 L539.0 676.6 L539.8 676.3 L540.6 675.4 L541.4 674.1 L542.2 672.2 L543.0 669.4 L543.8 667.4 L544.6 664.4 L545.4 661.4 L546.2 659.4 L547.0 655.3 L547.8 651.7 L548.6 646.5 L549.4 645.0 L550.2 645.5 L551.0 643.2 L551.8 643.3 L552.6 643.0 L553.5 643.4 L554.3 644.7 L555.1 644.3 L555.9 644.9 L556.7 643.8 L557.5 643.6 L558.3 641.7 L559.1 641.7 L559.9 643.0 L560.7 642.6 L561.5 644.2 L562.3 644.4 L563.1 645.7 L563.9 648.6 L564.7 652.8 L565.5 656.2 L566.3 656.7 L567.1 657.2 L567.9 657.9 L568.7 658.8 L569.5 659.4 L570.3 657.5 L571.1 656.4 L571.9 656.0 L572.7 654.6 L573.5 654.0 L574.3 653.0 L575.1 652.9 L575.9 651.6 L576.7 650.6 L577.5 651.1 L578.3 649.7 L579.1 650.6 L579.9 650.6 L580.7 650.7 L581.5 649.7 L582.3 650.2 L583.1 651.0 L583.9 653.0 L584.7 653.0 L585.5 654.5 L586.3 658.2 L587.2 659.4 L588.0 658.5 L588.8 655.4 L589.6 654.0 L590.4 653.0 L591.2 652.6 L592.0 650.9 L592.8 649.7 L593.6 650.4 L594.4 648.9 L595.2 648.6 L596.0 649.2 L596.8 647.7 L597.6 648.1 L598.4 648.1 L599.2 648.5 L600.0 647.2 L600.8 647.5 L601.6 648.5 L602.4 649.0 L603.2 648.1 L604.0 648.4 L604.8 646.1 L605.6 646.2 L606.4 646.1 L607.2 644.9 L608.0 643.7 L608.8 642.9 L609.6 640.7 L610.4 640.1 L611.3 639.1 L612.2 639.0 L613.1 638.7 L614.0 639.4 L614.8 640.9 L615.6 642.3 L616.4 643.8 L617.2 645.1 L618.0 646.0 L618.8 647.6 L619.6 649.3 L620.4 652.2 L621.2 653.1 L622.0 655.2 L622.8 656.2 L623.6 655.6 L624.4 656.7 L625.2 658.7 L626.0 660.0 L626.9 659.4 L627.7 660.4 L628.5 660.3 L629.3 659.2 L630.1 658.6 L630.9 657.9 L631.7 657.0 L632.5 656.3 L633.3 654.9 L634.1 652.1 L634.9 651.9 L635.7 649.9 L636.5 649.0 L637.3 646.0 L638.1 645.0 L638.9 643.5 L640.0 643.5 L640.7 644.9 L641.5 645.2 L642.2 645.8 L642.9 646.7 L643.7 648.4 L644.4 648.3 L645.1 650.3 L646.0 651.9 L646.8 652.6 L647.7 653.2 L648.5 654.4 L649.4 654.5 L650.2 654.0 L651.0 652.7 L651.8 652.3 L652.7 651.2 L652.9 650.4 L653.7 649.7 L654.1 648.9 L653.1 647.5 L653.1 646.5 L654.3 646.1 L654.4 645.1 L656.1 644.8 L656.1 643.9 L656.2 642.9 L656.5 642.0 L657.1 641.3 L656.1 639.9 L657.2 639.4 L657.6 638.6 L657.2 637.4 L659.3 637.3 L657.7 635.6 L659.8 635.6 L658.4 634.0 L660.3 633.7 L659.8 632.5 L660.3 631.8 L661.7 631.4 L660.1 629.7 L660.6 628.9 L663.0 628.9 L662.4 627.7 L661.7 626.4 L663.1 626.0 L664.4 625.7 L664.9 624.9 L663.9 623.2 L664.9 622.7 L664.9 621.6 L665.8 621.0 L666.8 620.6 L667.1 619.6 L667.6 618.8 L668.8 619.2 L669.1 617.9 L669.9 617.7 L671.1 618.2 L671.6 617.4 L672.2 618.3 L672.3 619.2 L671.9 620.3 L672.5 621.2 L673.0 622.0 L674.4 622.7 L672.3 624.2 L671.8 625.3 L671.9 626.2 L673.2 626.9 L673.9 627.8 L674.5 628.6 L674.6 629.5 L673.6 630.6 L673.8 631.5 L675.8 632.1 L675.5 633.1 L675.2 634.0 L674.8 635.0 L674.0 636.0 L675.1 636.8 L675.2 637.7 L673.7 636.7 L676.4 635.9 L675.1 635.0 L675.4 634.1 L674.5 633.2 L675.2 632.3 L675.1 631.4 L676.4 630.5 L674.3 629.5 L675.8 628.7 L674.6 627.7 L676.3 626.9 L674.2 625.9 L675.0 625.0 L675.3 624.1 L676.3 623.3 L674.4 622.3 L675.8 621.4 L675.0 620.5 L675.2 619.6 L675.9 618.7 L677.5 617.9 L676.0 616.9 L677.6 616.1 L676.1 615.1 L675.1 614.2 L677.6 613.3 L675.8 612.4 L675.2 611.4 L677.1 610.5 L677.7 609.6 L674.7 608.6 L675.6 607.7 L677.3 606.9 L675.9 605.9 L675.6 605.0 L674.9 604.0 L675.0 603.1 L676.9 602.2 L678.2 601.3 L678.2 600.4 L676.6 599.4 L675.1 598.5 L676.1 597.6 L677.7 596.7 L677.8 595.8 L676.8 594.8 L677.3 595.8 L678.5 596.0 L678.9 597.1 L678.8 598.0 L679.0 598.9 L678.6 599.8 L679.8 600.6 L677.6 601.7 L677.9 602.6 L680.3 603.3 L679.9 604.3 L678.1 605.3 L680.1 606.1 L678.0 607.1 L679.4 607.9 L678.9 608.9 L678.9 609.8 L680.6 610.6 L680.4 611.5 L680.5 612.4 L679.2 613.4 L679.2 614.3 L681.1 615.1 L678.7 616.1 L680.2 616.9 L680.9 617.8 L680.3 618.7 L678.6 619.7 L680.0 620.6 L679.8 621.5 L678.9 622.4 L678.8 623.3 L680.4 624.2 L681.3 623.3 L680.2 622.3 L680.9 621.5 L682.0 620.6 L681.7 619.7 L681.0 618.8 L680.3 617.8 L680.5 616.9 L681.7 616.1 L681.2 615.2 L679.5 614.1 L681.9 613.4 L682.6 612.5 L682.3 611.6 L682.7 610.7 L682.8 609.8 L681.6 608.8 L681.6 607.9 L682.6 607.1 L681.4 606.1 L680.6 605.0 L681.6 604.2 L681.6 603.3 L683.8 602.7 L683.1 601.7 L682.8 600.7 L683.2 599.8 L681.7 598.7 L683.1 598.0 L683.8 597.2 L682.9 596.1 L682.6 595.2 L683.2 594.3 L683.1 593.4 L683.8 592.6 L684.6 591.8 L683.0 590.5 L683.0 589.6 L683.9 588.8 L685.3 588.2 L685.7 587.3 L685.5 586.3 L686.6 585.6 L684.9 584.4 L684.0 583.3 L685.6 582.6 L685.6 581.7 L684.9 580.6 L686.7 580.0 L685.8 578.9 L685.6 578.0 L686.1 577.1 L688.2 576.6 L687.0 575.4 L685.5 574.3 L686.7 573.5 L686.6 572.6 L686.4 571.7 L687.3 570.8 L686.7 569.9 L689.1 569.2 L687.8 568.1 L688.6 567.3 L686.9 566.2 L688.0 565.4 L688.6 564.5 L689.5 563.7 L687.6 562.6 L688.4 561.8 L689.8 561.0 L689.8 560.1 L688.0 558.9 L689.1 558.1 L689.9 557.3 L688.8 556.3 L689.8 555.5 L689.9 554.6 L691.0 553.8 L689.7 552.7 L690.3 551.8 L689.3 550.8 L690.6 550.0 L689.4 549.0 L690.1 548.1 L689.7 547.2 L690.3 546.3 L689.8 545.3 L689.4 544.2 L689.9 543.3 L691.1 542.6 L690.3 541.5 L689.7 540.4 L692.4 539.9 L690.8 538.7 L693.1 538.1 L692.2 537.0 L692.0 536.0 L692.0 535.0 L693.6 534.6 L694.0 533.8 L692.6 532.3 L692.4 531.3 L694.1 530.9 L695.0 530.2 L694.3 529.0 L694.0 530.0 L693.6 531.0 L694.9 531.8 L694.3 532.8 L695.5 533.6 L695.2 534.6 L695.4 535.5 L695.4 536.5 L695.5 537.4 L694.2 538.5 L696.4 539.2 L696.4 540.2 L696.3 541.1 L694.1 542.3 L695.6 543.1 L695.8 544.0 L694.4 543.0 L697.0 542.2 L697.2 541.3 L697.1 540.3 L695.6 539.3 L696.9 538.5 L695.5 537.5 L695.0 536.5 L697.5 535.7 L697.4 534.8 L695.4 533.7 L697.7 532.9 L694.9 531.8 L695.9 531.0 L695.0 530.0 L695.6 529.1 L695.6 528.2 L697.5 527.3 L696.1 526.3 L695.9 525.4 L695.9 524.4 L696.4 523.5 L698.2 522.7 L697.4 521.7 L695.8 520.7 L697.8 519.9 L697.4 518.9 L697.3 518.0 L697.3 517.0 L697.7 516.1 L698.3 515.2 L698.9 514.3 L698.1 513.2 L698.7 512.3 L698.3 511.3 L699.0 510.4 L698.4 509.3 L698.6 508.4 L699.1 507.5 L699.2 506.5 L698.6 507.5 L700.2 508.3 L698.2 509.5 L699.7 510.2 L698.7 511.3 L699.3 512.2 L698.6 513.3 L700.2 514.0 L699.6 514.9 L700.5 515.9 L700.6 516.8 L699.9 517.7 L699.4 518.7 L699.2 519.6 L701.5 520.5 L701.8 521.4 L701.6 522.3 L701.7 523.3 L701.8 524.2 L702.0 525.1 L701.2 526.1 L701.7 527.0 L699.8 527.9 L700.0 528.9 L698.9 529.8 L698.9 530.7 L699.7 531.7 L699.0 532.6 L702.1 533.5 L701.4 534.4 L699.1 535.4 L700.6 536.3 L701.5 537.2 L699.7 538.2 L700.8 539.1 L700.6 540.0 L700.8 539.1 L700.1 538.2 L699.9 537.3 L699.4 536.3 L701.2 535.5 L702.4 534.7 L702.6 533.8 L701.9 532.8 L702.5 532.0 L700.6 531.0 L700.5 530.1 L702.6 529.3 L701.6 528.3 L701.9 527.4 L699.7 526.4 L700.5 525.6 L701.4 524.7 L702.3 523.8 L702.6 523.0 L701.6 522.0 L700.9 523.1 L702.5 523.8 L702.5 524.8 L701.1 526.0 L700.9 527.0 L702.7 527.6 L703.8 528.4 L702.6 529.6 L703.0 530.5 L703.3 531.4 L703.8 532.3 L704.4 533.2 L703.9 534.2 L703.3 535.2 L704.9 536.0 L703.7 537.0 L702.4 538.1 L703.2 539.0 L704.9 539.8 L704.4 540.8 L705.5 541.6 L703.5 542.7 L704.4 543.6 L703.9 544.5 L705.3 545.6 L704.0 546.5 L703.8 547.5 L703.8 548.5 L704.4 549.5 L704.6 550.5 L704.3 551.5 L703.8 552.4 L703.9 553.8 L705.5 553.7 L706.0 554.6 L706.8 555.3 L707.9 555.7 L708.2 556.8 L708.6 557.7 L709.4 558.5 L709.1 559.5 L709.0 560.4 L709.2 561.3 L707.3 562.4 L709.5 563.1 L709.5 564.1 L708.5 565.1 L709.5 565.9 L709.2 566.9 L709.3 567.8 L709.0 568.8 L711.1 569.4 L709.4 570.7 L711.4 571.3 L711.2 572.3 L709.6 573.7 L709.2 574.7 L710.5 575.4 L712.3 576.0 L711.7 577.1 L712.4 578.0 L710.8 579.3 L712.1 580.0 L712.9 581.7 L713.8 584.8 L714.6 587.0 L715.4 588.8 L716.2 590.3 L717.0 589.8 L717.9 590.7 L718.7 592.1 L719.8 578.9 L720.6 566.7 L721.6 565.4 L722.6 565.6 L723.4 565.2 L724.2 566.4 L725.0 565.3 L725.7 566.3 L726.5 565.8 L727.3 566.1 L728.1 566.7 L729.0 567.3 L730.0 568.8 L730.9 568.9 L732.0 578.9 L732.8 582.4 L733.6 585.5 L734.5 586.0 L735.5 588.0 L736.4 589.9 L737.3 589.4 L738.3 591.0 L739.2 590.5 L740.0 592.1 L740.9 593.0 L741.7 594.0 L742.5 594.3 L743.4 595.0 L744.3 595.6 L745.2 594.9 L746.1 592.7 L747.1 588.9 L748.0 586.6 L748.9 585.1 L749.8 582.2 L750.7 580.0 L751.6 579.5 L752.4 578.2 L753.2 576.9 L754.1 576.1 L754.8 575.9 L755.6 576.2 L756.3 576.0 L757.0 575.7 L757.8 577.2 L758.5 576.7 L759.4 579.1 L760.3 581.3 L761.2 582.2 L762.1 584.4 L763.1 586.0 L764.0 587.7 L764.7 588.7 L765.4 588.0 L766.2 589.6 L766.9 589.6 L767.6 589.6 L768.3 590.7 L769.1 591.7 L769.9 594.0 L770.7 595.1 L771.5 597.2 L772.3 597.1 L773.0 597.3 L773.8 596.9 L774.5 596.4 L775.2 597.1 L776.0 596.6 L776.9 595.6 L777.7 595.1 L778.5 594.6 L779.3 594.7 L780.1 593.9 L780.9 592.9 L781.7 593.5 L782.5 593.7 L783.3 592.3 L784.1 593.1 L784.9 594.7 L785.7 596.2 L786.5 596.3 L787.3 601.0 L788.1 607.5 L788.9 599.9 L789.7 594.2 L790.5 586.7 L791.3 587.7 L792.1 587.7 L792.9 587.2 L793.7 588.3 L794.5 588.4 L795.3 589.6 L796.1 590.0 L796.9 590.2 L797.7 589.9 L798.5 595.7 L799.3 602.7 L800.1 600.7 L800.9 597.1 L801.7 594.7 L800.9 615.5 L801.7 616.0 L802.5 614.8 L803.3 616.5 L804.1 615.8 L804.9 615.5 L805.7 614.8 L806.5 612.6 L807.3 612.2 L808.1 610.7 L808.9 609.9 L809.7 608.9 L810.6 607.4 L811.4 606.7 L812.2 609.0 L813.0 610.0 L813.8 611.7 L814.6 613.9 L815.4 614.6 L816.2 616.9 L817.0 617.0 L817.8 618.5 L818.6 620.4 L819.4 618.3 L820.2 618.2 L821.0 616.9 L821.8 615.5 L822.6 614.8 L823.4 613.0 L824.2 613.1 L825.0 614.3 L825.8 615.4 L826.6 616.2 L827.4 617.3 L828.2 619.6 L829.0 620.1 L829.8 617.8 L830.6 617.7 L831.4 617.2 L832.2 617.2 L833.0 616.7 L833.8 615.0 L834.6 615.2 L835.4 614.3 L836.2 613.9 L837.0 613.4 L837.8 610.5 L838.6 610.0 L839.4 609.1 L840.2 607.9 L841.0 607.7 L841.8 605.5 L842.6 604.3 L843.5 605.5 L844.3 607.1 L845.1 607.5 L845.9 609.1 L846.7 608.6 L847.5 609.9 L848.3 611.2 L849.1 610.7 L849.9 610.3 L850.7 608.4 L851.6 608.4 L852.4 607.8 L853.2 605.7 L854.0 605.2 L855.2 585.2 L856.5 568.1 L857.5 559.3 L858.4 550.1 L859.6 567.1 L860.4 576.9 L861.3 587.2 L862.1 582.8 L862.9 579.0 L863.7 574.9 L864.6 571.6 L865.6 577.4 L866.6 583.7 L867.5 576.7 L868.5 571.4 L869.4 565.6 L870.1 570.5 L870.9 577.5 L871.6 582.7 L872.3 574.1 L873.1 565.1 L873.9 556.6 L874.6 550.1 L875.9 538.5" fill="none" stroke="#ff0000" stroke-width="8.2" stroke-linejoin="round" stroke-linecap="round"/>
</g>
<text class="ax" text-anchor="end" letter-spacing="-0.55" x="110.4" y="204.1">4,500</text>
<text class="ax" text-anchor="end" letter-spacing="-0.55" x="110.4" y="281.5">4,000</text>
<text class="ax" text-anchor="end" letter-spacing="-0.55" x="110.4" y="358.9">3,500</text>
<text class="ax" text-anchor="end" letter-spacing="-0.55" x="110.4" y="436.3">3,000</text>
<text class="ax" text-anchor="end" letter-spacing="-0.55" x="110.4" y="513.7">2,500</text>
<text class="ax" text-anchor="end" letter-spacing="-0.55" x="110.4" y="591.0">2,000</text>
<text class="ax" text-anchor="end" letter-spacing="-0.55" x="110.4" y="668.4">1,500</text>
<text class="ax" text-anchor="end" letter-spacing="-0.55" x="110.4" y="745.8">1,000</text>
<text class="ax" text-anchor="end" letter-spacing="-0.55" x="110.4" y="823.2">500</text>
<text class="ax" x="86" y="901.1">-</text>
<text class="axr" letter-spacing="-0.55" x="910.1" y="204.1">5,000</text>
<text class="axr" letter-spacing="-0.55" x="910.1" y="273.8">4,500</text>
<text class="axr" letter-spacing="-0.55" x="910.1" y="343.4">4,000</text>
<text class="axr" letter-spacing="-0.55" x="910.1" y="413.1">3,500</text>
<text class="axr" letter-spacing="-0.55" x="910.1" y="482.7">3,000</text>
<text class="axr" letter-spacing="-0.55" x="910.1" y="552.4">2,500</text>
<text class="axr" letter-spacing="-0.55" x="910.1" y="622.0">2,000</text>
<text class="axr" letter-spacing="-0.55" x="910.1" y="691.6">1,500</text>
<text class="axr" letter-spacing="-0.55" x="910.1" y="761.3">1,000</text>
<text class="axr" letter-spacing="-0.55" x="910.1" y="831.0">500</text>
<text class="axr" x="911" y="901.1">-</text>
<text class="ax" text-anchor="middle" x="144.0" y="935.4">05</text>
<text class="ax" text-anchor="middle" x="214.4" y="935.4">07</text>
<text class="ax" text-anchor="middle" x="284.8" y="935.4">09</text>
<text class="ax" text-anchor="middle" x="355.2" y="935.4">11</text>
<text class="ax" text-anchor="middle" x="425.6" y="935.4">13</text>
<text class="ax" text-anchor="middle" x="496.0" y="935.4">15</text>
<text class="ax" text-anchor="middle" x="566.4" y="935.4">17</text>
<text class="ax" text-anchor="middle" x="636.8" y="935.4">19</text>
<text class="ax" text-anchor="middle" x="707.2" y="935.4">21</text>
<text class="ax" text-anchor="middle" x="777.6" y="935.4">23</text>
<text class="ax" text-anchor="middle" x="848.0" y="935.4">25</text>
<text class="src" x="33.6" y="984.4" letter-spacing="0.18">Source: Topdown Charts, LSEG</text>
<text class="url" x="683.6" y="984.5" letter-spacing="0.13">gold.topdowncharts.com</text>
</svg></body></html>
